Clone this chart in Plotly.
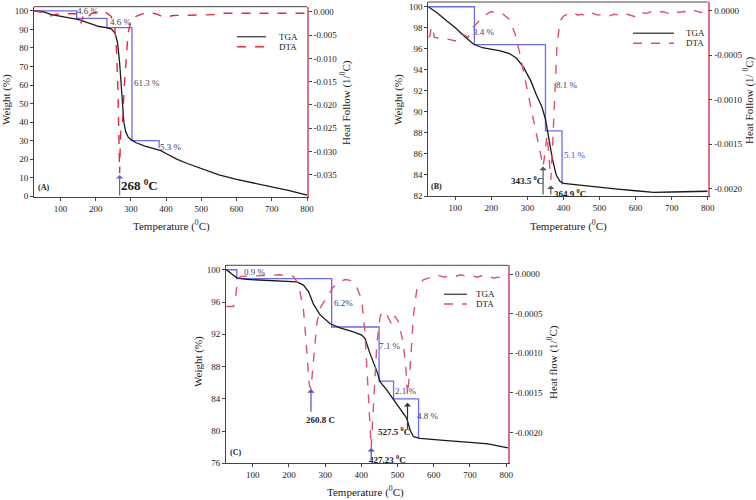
import plotly.graph_objects as go

# ---------------- DATA ----------------
# Panel A
a_tga_T = [25, 50, 75, 100, 125, 150, 170, 190, 210, 230, 245, 255, 262, 268, 272, 276, 280, 285, 292, 300,
           315, 340, 370, 385, 400, 430, 460, 500, 550, 600, 650, 700, 750, 800]
a_tga_W = [100, 99.6, 98, 97, 96.3, 95.5, 94.2, 92.5, 91.6, 91.0, 90.2, 88, 83, 72, 60, 48, 40, 35, 32, 30.5,
           28.8, 27, 25.3, 24.5, 23, 20, 17.6, 14.8, 11.5, 9, 7, 5, 3, 0.5]
a_dta_T = [24, 40, 50, 60, 69, 83, 100, 145, 154, 159, 164, 170, 178, 187, 202, 230, 244, 254, 259, 263, 266,
           268, 270, 272, 276, 282, 292, 301, 316, 335, 354, 375, 390, 396, 420, 496, 544, 560, 686, 800]
a_dta_V = [0.0002, 0.0, -0.0001, -0.0006, -0.001, -0.0006, -0.0004, -0.0004, -0.001, -0.0025, -0.001, -0.0005,
           -0.0012, -0.0004, -0.0001, -0.0002, -0.001, -0.0032, -0.008, -0.016, -0.028, -0.0347, -0.028, -0.0245,
           -0.024, -0.015, -0.0046, -0.0017, -0.0009, -0.0004, -0.0002, -0.0005, -0.0011, -0.0012, -0.0008,
           -0.0006, -0.0006, -0.0003, -0.0003, -0.0003]
a_step_T = [25, 146, 232, 303, 380]
a_step_W = [100, 96, 91, 30, 26]

# Panel B
b_tga_T = [25, 50, 75, 100, 125, 150, 175, 200, 225, 250, 270, 290, 310, 325, 340, 350, 360, 370, 380, 390,
           400, 450, 500, 550, 600, 650, 700, 750, 800]
b_tga_W = [100, 99.4, 98.7, 98.0, 97.2, 96.45, 96.1, 95.95, 95.8, 95.55, 95.1, 94.2, 92.9, 91.6, 90.5, 89.3,
           87.3, 85.4, 84.0, 83.4, 83.2, 83.0, 82.85, 82.65, 82.5, 82.35, 82.38, 82.42, 82.45]
b_dta_T = [25, 30, 33, 37, 42, 60, 80, 100, 110, 120, 135, 150, 170, 190, 200, 215, 230, 250, 265, 280, 295,
           310, 325, 335, 343.5, 349, 354, 358, 364.9, 370, 376, 382, 390, 400, 410, 420, 430, 440, 450, 465,
           480, 495, 510, 525, 540, 555, 570, 585, 600, 615, 630, 645, 660, 675, 690, 705, 720, 735, 750, 765,
           780, 795, 800]
b_dta_V = [-0.0003, -0.00028, -0.00018, -0.0002, -0.0003, -0.00031, -0.00032, -0.00034, -0.0003, -0.00026,
           -0.0003, -0.00018, -0.0001, -0.00003, -0.00001, -0.00003, -0.00003, -0.0001, -0.00025, -0.0005,
           -0.0008, -0.0011, -0.0014, -0.0016, -0.00175, -0.0016, -0.0014, -0.00155, -0.0019, -0.0015, -0.0009,
           -0.0004, -0.00012, -0.00006, -0.00004, -0.00005, -0.00003, -0.00005, -0.00004, -0.00006, -0.00003,
           -0.00005, -0.00004, -0.00006, -0.00004, -0.00005, -0.00003, -0.00005, -0.00007, -0.00002, -0.00003,
           -0.00001, -0.00002, -0.00001, -0.00003, 0.0, -0.00002, -0.00001, -0.00003, 0.0, -0.00002, -0.00001,
           -0.00002]
b_step_T = [25, 153, 350, 396]
b_step_W = [100, 96.4, 88.2, 83.1]

# Panel C
c_tga_T = [27, 40, 56, 83, 130, 175, 222, 240, 254, 268, 286, 314, 341, 378, 401, 410, 424, 443, 452, 470,
           489, 507, 525, 535, 544, 562, 600, 636, 700, 750, 805]
c_tga_W = [100, 99.5, 99, 98.8, 98.7, 98.6, 98.5, 98.1, 97.3, 95.7, 94.4, 93.3, 92.8, 92.3, 91.9, 91.5, 89.6,
           87.4, 86.1, 85.1, 83.9, 82.8, 81.6, 80.1, 79.3, 79.1, 78.9, 78.8, 78.6, 78.4, 77.9]
c_dta_T = [27, 47, 52, 56, 65, 83, 130, 175, 212, 226, 240, 249, 256, 260.8, 268, 277, 286, 304, 323, 340, 355,
           369, 387, 401, 410, 420, 427.23, 433, 443, 452, 461, 470, 484, 493, 502, 516, 523, 527.5, 535, 544,
           553, 571, 599, 615, 630, 645, 660, 675, 690, 705, 720, 735, 750, 765, 780, 795, 805]
c_dta_V = [-0.00041, -0.00041, -0.0003, -0.00016, -0.00003, -0.000025, -0.00002, -0.00001, -0.00003, -0.00012,
           -0.00045, -0.00095, -0.0014, -0.00145, -0.0011, -0.00062, -0.00043, -0.0003, -0.00016, -0.0001,
           -0.00007, -0.00008, -0.00016, -0.00033, -0.00074, -0.00158, -0.0022, -0.0017, -0.00087, -0.00053,
           -0.00047, -0.00051, -0.00064, -0.00053, -0.0006, -0.00087, -0.0012, -0.00153, -0.00116, -0.00053,
           -0.0002, -0.000075, -0.00003, -0.00002, -0.00004, -0.00002, -0.00003, -0.00001, -0.00003, -0.00002,
           -0.00004, -0.00002, -0.00003, -0.00005, -0.00004, -0.00006, -0.000075]
c_step_T = [26, 56, 318, 449, 489, 558]
c_step_W = [100, 98.9, 92.9, 86.2, 84.0, 79.1]

# ticks
x_ticks = [100, 200, 300, 400, 500, 600, 700, 800]
a_left_ticks = [0, 10, 20, 30, 40, 50, 60, 70, 80, 90, 100]
a_right_vals = [0.0, -0.005, -0.010, -0.015, -0.020, -0.025, -0.030, -0.035, -0.040]
a_right_text = ["0.000", "-0.005", "-0.010", "-0.015", "-0.020", "-0.025", "-0.030", "-0.035", "-0.040"]
b_left_ticks = [82, 84, 86, 88, 90, 92, 94, 96, 98, 100]
c_left_ticks = [76, 80, 84, 88, 92, 96, 100]
bc_right_vals = [0.0, -0.0005, -0.0010, -0.0015, -0.0020]
bc_right_text = ["0.0000", "-0.0005", "-0.0010", "-0.0015", "-0.0020"]

# ---------------- STYLE ----------------
FONT = "Liberation Serif"
BLACK = "#1a1a1a"
RED_A = "#e8283c"
RED = "#e0506e"
BLUE = "#6a6af2"
LBL = "#3c3c66"
PINK_AX = "#e07090"
W_PX, H_PX = 756, 500

fig = go.Figure()

def add_panel(xa, yl, yr, tT, tW, dT, dV, sT, sW, red):
    fig.add_trace(go.Scatter(x=sT, y=sW, mode="lines", line=dict(color=BLUE, width=1.3, shape="hv"),
                             xaxis=xa, yaxis=yl, showlegend=False, hoverinfo="skip"))
    fig.add_trace(go.Scatter(x=dT, y=dV, mode="lines", line=dict(color=red, width=1.4, dash="dash"),
                             xaxis=xa, yaxis=yr, name="DTA", showlegend=False))
    fig.add_trace(go.Scatter(x=tT, y=tW, mode="lines", line=dict(color=BLACK, width=1.3),
                             xaxis=xa, yaxis=yl, name="TGA", showlegend=False))

add_panel("x", "y", "y2", a_tga_T, a_tga_W, a_dta_T, a_dta_V, a_step_T, a_step_W, RED_A)
add_panel("x2", "y3", "y4", b_tga_T, b_tga_W, b_dta_T, b_dta_V, b_step_T, b_step_W, RED)
add_panel("x3", "y5", "y6", c_tga_T, c_tga_W, c_dta_T, c_dta_V, c_step_T, c_step_W, RED)

tickfont = dict(family=FONT, size=9, color=BLACK)
titlefont = dict(family=FONT, size=11, color=BLACK)

def xax(domain, rng, anchor):
    return dict(domain=domain, range=rng, anchor=anchor, tickvals=x_ticks, ticks="outside", ticklen=3,
                tickcolor="#444", showline=True, linecolor="#444", linewidth=1, mirror=False,
                showgrid=False, zeroline=False, tickfont=tickfont, automargin=False)

def yleft(domain, rng, anchor, ticks):
    return dict(domain=domain, range=rng, anchor=anchor, tickvals=ticks, ticks="outside", ticklen=3,
                tickcolor="#444", showline=True, linecolor="#444", linewidth=1, showgrid=False,
                zeroline=False, tickfont=tickfont, automargin=False)

def yright(overl, rng, anchor, vals, text):
    return dict(overlaying=overl, side="right", range=rng, anchor=anchor, tickvals=vals, ticktext=text,
                ticks="outside", ticklen=3, tickcolor="#444", showline=True, linecolor=PINK_AX, linewidth=1.5,
                showgrid=False, zeroline=False, tickfont=tickfont, automargin=False)

dA_x = [0.0450, 0.4061]; dA_y = [0.606, 0.9866]
dB_x = [0.5665, 0.9361]; dB_y = [0.608, 0.996]
dC_x = [0.2989, 0.6724]; dC_y = [0.0734, 0.4694]

fig.update_layout(
    width=W_PX, height=H_PX, margin=dict(l=0, r=0, t=0, b=0, autoexpand=False),
    paper_bgcolor="white", plot_bgcolor="white", showlegend=False,
    font=dict(family=FONT, color=BLACK),
    xaxis=xax(dA_x, [25, 800], "y"),
    yaxis=yleft(dA_y, [-0.5, 102.3], "x", a_left_ticks),
    yaxis2=yright("y", [-0.0398, 0.0011], "x", a_right_vals, a_right_text),
    xaxis2=xax(dB_x, [25, 800], "y3"),
    yaxis3=yleft(dB_y, [82, 100.45], "x2", b_left_ticks),
    yaxis4=yright("y3", [-0.002082, 0.0000978], "x2", bc_right_vals, bc_right_text),
    xaxis3=xax(dC_x, [26, 806], "y5"),
    yaxis5=yleft(dC_y, [76, 100.55], "x3", c_left_ticks),
    yaxis6=yright("y5", [-0.00239, 0.00011], "x3", bc_right_vals, bc_right_text),
)

# axis titles (placed in pixel positions of the figure)
def title(x, y, text, angle=0):
    fig.add_annotation(xref="paper", yref="paper", x=x / W_PX, y=1 - y / H_PX, text=text, showarrow=False,
                       xanchor="center", yanchor="middle", textangle=angle, font=titlefont)

title(171, 226, "Temperature (<sup>0</sup>C)")
title(7, 100, "Weight (%)", -90)
title(346, 103, "Heat Follow (1/<sup>0</sup>C)", -90)
title(568, 226, "Temperature (<sup>0</sup>C)")
title(399, 100, "Weight (%)", -90)
title(749, 100, "Heat Follow (1/ <sup>0</sup>C)", -90)
title(365, 491, "Temperature (<sup>0</sup>C)")
title(198, 362, "Weight (%)", -90)
title(552, 362, "Heat flow (1/<sup>0</sup>C)", -90)

# top borders of each plot box
for (dx, dy) in [(dA_x, dA_y), (dB_x, dB_y), (dC_x, dC_y)]:
    fig.add_shape(type="line", xref="paper", yref="paper", x0=dx[0], x1=dx[1], y0=dy[1], y1=dy[1],
                  line=dict(color="#444", width=1))

# legends (drawn per panel)
def legend(x0, x1, y_tga, y_dta, xtext, red):
    fig.add_shape(type="line", xref="paper", yref="paper", x0=x0 / W_PX, x1=x1 / W_PX,
                  y0=1 - y_tga / H_PX, y1=1 - y_tga / H_PX, line=dict(color="#555", width=1.5))
    fig.add_shape(type="line", xref="paper", yref="paper", x0=x0 / W_PX, x1=x1 / W_PX,
                  y0=1 - y_dta / H_PX, y1=1 - y_dta / H_PX, line=dict(color=red, width=1.5, dash="dash"))
    for txt, yy in [("TGA", y_tga), ("DTA", y_dta)]:
        fig.add_annotation(xref="paper", yref="paper", x=xtext / W_PX, y=1 - yy / H_PX, text=txt,
                           showarrow=False, xanchor="left", yanchor="middle",
                           font=dict(family=FONT, size=9, color=BLACK))

legend(237, 266, 36.7, 46.7, 277, RED_A)
legend(633, 674, 33.3, 43.3, 684, RED)
legend(444, 467, 294.3, 304, 474, RED)

def label(xa, ya, x, y, text, size=9, bold=False, color=LBL, anchor="center"):
    if bold:
        text = "<b>" + text + "</b>"
    fig.add_annotation(xref=xa, yref=ya, x=x, y=y, text=text, showarrow=False, xanchor=anchor,
                       yanchor="middle", font=dict(family=FONT, size=size, color=color))

# Panel A labels
label("x", "y", 177, 100, "4.6 %")
label("x", "y", 271, 93.9, "4.6 %")
label("x", "y", 346, 61, "61.3 %")
label("x", "y", 413, 26.7, "5.3 %")
label("x", "y", 324, 6, "268 <sup>0</sup>C", size=13, bold=True, color=BLACK)
label("x", "y", 52, 4.5, "(A)", size=8, bold=True, color=BLACK)
# Panel B labels
label("x2", "y3", 180, 97.6, "3.4 %")
label("x2", "y3", 410, 92.6, "8.1 %")
label("x2", "y3", 431, 85.9, "5.1 %", color="#4a4ad0")
label("x2", "y3", 300, 83.5, "343.5 <sup>0</sup>C", bold=True, color=BLACK)
label("x2", "y3", 368, 82.3, "364.9 <sup>0</sup>C", bold=True, color=BLACK, anchor="left")
label("x2", "y3", 48, 82.9, "(B)", size=8, bold=True, color=BLACK)
# Panel C labels
label("x3", "y5", 105, 99.7, "0.9 %")
label("x3", "y5", 351, 95.9, "6.2%")
label("x3", "y5", 479, 90.5, "7.1 %")
label("x3", "y5", 524, 85.0, "2.1 %")
label("x3", "y5", 585, 81.9, "4.8 %")
label("x3", "y5", 286, 81.4, "260.8 C", bold=True, color=BLACK)
label("x3", "y5", 490, 80.0, "527.5 <sup>0</sup>C", bold=True, color=BLACK)
label("x3", "y5", 471, 76.5, "427.23 <sup>0</sup>C", bold=True, color=BLACK)
label("x3", "y5", 51, 77.3, "(C)", size=8, bold=True, color=BLACK)

def arrow(xa, ya, x, y_head, y_tail, color):
    fig.add_annotation(xref=xa, yref=ya, axref=xa, ayref=ya, x=x, y=y_head, ax=x, ay=y_tail, text="",
                       showarrow=True, arrowhead=1, arrowsize=1, arrowwidth=1.2, arrowcolor=color)

arrow("x", "y", 268, 11.4, -0.5, "#6060c0")
arrow("x2", "y3", 343.5, 84.8, 82, "#555")
arrow("x2", "y3", 364.9, 83.0, 82, "#555")
arrow("x3", "y5", 260.8, 85.2, 82.2, "#5050c8")
arrow("x3", "y5", 427.23, 77.9, 76.4, "#5050c8")
arrow("x3", "y5", 527.5, 83.5, 80.1, "#333")

# remove the browser's default page margin so the 756x500 figure fills the window exactly
fig.write_html("out.html", config={"displayModeBar": False},
               post_script="document.body.style.margin='0';")
